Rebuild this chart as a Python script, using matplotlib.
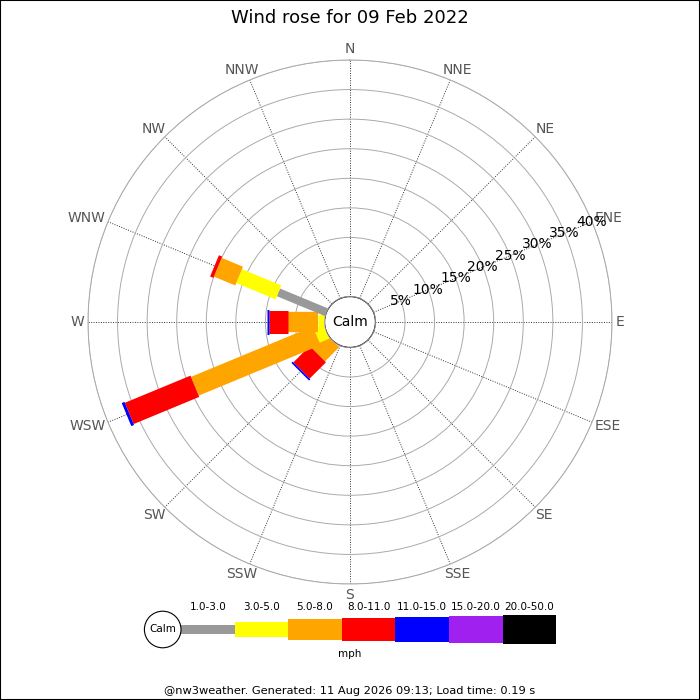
import numpy as np
import matplotlib
matplotlib.use("Agg")
import matplotlib.pyplot as plt
from matplotlib.patches import Circle, Rectangle
from matplotlib.transforms import offset_copy

# wind rose data (percent of time)
directions = ['N', 'NNE', 'NE', 'ENE', 'E', 'ESE', 'SE', 'SSE',
              'S', 'SSW', 'SW', 'WSW', 'W', 'WNW', 'NW', 'NNW']
speed_bins = ['1.0-3.0', '3.0-5.0', '5.0-8.0', '8.0-11.0',
              '11.0-15.0', '15.0-20.0', '20.0-50.0']
bin_colors = ['#999999', '#ffff00', '#ffa500', '#ff0000',
              '#0000ff', '#a020f0', '#000000']
#                N  NNE NE ENE E ESE SE SSE S SSW  SW   WSW   W     WNW  NW NNW
pct_1_3   = [0, 0, 0, 0, 0, 0, 0, 0, 0, 0, 0.0, 0.0,  0.0,  8.8, 0, 0]
pct_3_5   = [0, 0, 0, 0, 0, 0, 0, 0, 0, 0, 0.0, 1.8,  1.05, 7.2, 0, 0]
pct_5_8   = [0, 0, 0, 0, 0, 0, 0, 0, 0, 0, 3.4, 22.3, 5.2,  3.9, 0, 0]
pct_8_11  = [0, 0, 0, 0, 0, 0, 0, 0, 0, 0, 3.9, 12.0, 3.1,  0.6, 0, 0]
pct_11_15 = [0, 0, 0, 0, 0, 0, 0, 0, 0, 0, 0.3, 0.5,  0.35, 0.0, 0, 0]
pct_15_20 = [0] * 16
pct_20_50 = [0] * 16
ring_pcts = [5, 10, 15, 20, 25, 30, 35, 40]

title = 'Wind rose for 09 Feb 2022'
footer = '@nw3weather. Generated: 11 Aug 2026 09:13; Load time: 0.19 s'

all_bins = [pct_1_3, pct_3_5, pct_5_8, pct_8_11, pct_11_15, pct_15_20, pct_20_50]
bar_px = [8.3, 15, 20.3, 23, 25, 27, 28.3]   # bar thickness in pixels
DPI = 100

fig = plt.figure(figsize=(7, 7), dpi=DPI)
renderer = fig.canvas.get_renderer()

# polar axes: centre at (350,322) px, outer ring radius 262 px
cx, cy, R = 350, 322, 262
ax = fig.add_axes([(cx - R) / 700, (700 - cy - R) / 700, 2 * R / 700, 2 * R / 700],
                  projection='polar')
ax.set_theta_zero_location('N')
ax.set_theta_direction(-1)
ax.set_ylim(0, 40)
calm_px = 25.4
px_per_pct = (R - calm_px) / 40
ax.set_rorigin(-calm_px / px_per_pct)

theta = np.deg2rad(np.arange(16) * 22.5)
ax.set_thetagrids(np.arange(16) * 22.5, [''] * 16)
ax.set_rgrids(ring_pcts)
ax.set_yticklabels([])
ax.xaxis.grid(True, color='#333333', linestyle=(0, (1, 1.5)), linewidth=0.7)
ax.yaxis.grid(True, color='#aaaaaa', linestyle='-', linewidth=0.7)
ax.spines['polar'].set_color('#aaaaaa')
ax.spines['polar'].set_linewidth(0.7)
if 'inner' in ax.spines:
    ax.spines['inner'].set_visible(False)

# direction labels: anchored just outside the ring, shifted outward by their half size
label_r = (266 - calm_px) / px_per_pct
for d in range(16):
    t = ax.text(theta[d], label_r, directions[d], ha='center', va='center',
                fontsize=10, color='#555555')
    bb = t.get_window_extent(renderer)
    t.set_transform(offset_copy(ax.transData, fig=fig, units='dots',
                                x=bb.width / 2 * np.sin(theta[d]),
                                y=bb.height / 2 * np.cos(theta[d])))

# stacked bars
for d in range(16):
    cum = 0.0
    for b, vals in enumerate(all_bins):
        v = vals[d]
        if v <= 0:
            continue
        ax.plot([theta[d], theta[d]], [cum, cum + v], color=bin_colors[b],
                linewidth=bar_px[b] * 72 / DPI, solid_capstyle='butt', zorder=3)
        cum += v

# ring labels along ENE
for p in ring_pcts:
    ax.text(np.deg2rad(67.5), p, '%d%%' % p, ha='center', va='center',
            fontsize=10, color='black', zorder=4)

# calm circle
ax.add_patch(Circle((0.5, 0.5), calm_px / (2 * R), transform=ax.transAxes,
                    facecolor='white', edgecolor='#aaaaaa', linewidth=0.8, zorder=5))
ax.text(0.5, 0.5, 'Calm', transform=ax.transAxes, ha='center', va='center',
        fontsize=10, zorder=6)

# overlay axes in pixel coordinates for legend, title and footer
ov = fig.add_axes([0, 0, 1, 1], facecolor='none')
ov.set_xlim(0, 700)
ov.set_ylim(700, 0)
ov.axis('off')

ov.text(350, 18, title, ha='center', va='center', fontsize=13)

leg_x0, leg_step, leg_y = 181, 53.6, 629.5
lefts = leg_x0 + np.arange(len(speed_bins)) * leg_step
ov.bar(lefts, [-h for h in bar_px], width=leg_step, bottom=[leg_y + h / 2 for h in bar_px],
       color=bin_colors, align='edge', linewidth=0)
for i, lab in enumerate(speed_bins):
    ov.text(lefts[i] + leg_step / 2, 607, lab, ha='center', va='center', fontsize=7.5)
ov.add_patch(Circle((162.7, leg_y), 18.3, facecolor='white', edgecolor='black',
                    linewidth=0.8, zorder=3))
ov.text(162.7, leg_y, 'Calm', ha='center', va='center', fontsize=7.5, zorder=4)
ov.text(350, 654, 'mph', ha='center', va='center', fontsize=7.5)

ov.text(350, 691, footer, ha='center', va='center', fontsize=8.2)

# image border
fig.patches.append(Rectangle((0, 0), 1, 1, transform=fig.transFigure, fill=False,
                             edgecolor='black', linewidth=1.5))

fig.savefig('out.png', dpi=DPI)
